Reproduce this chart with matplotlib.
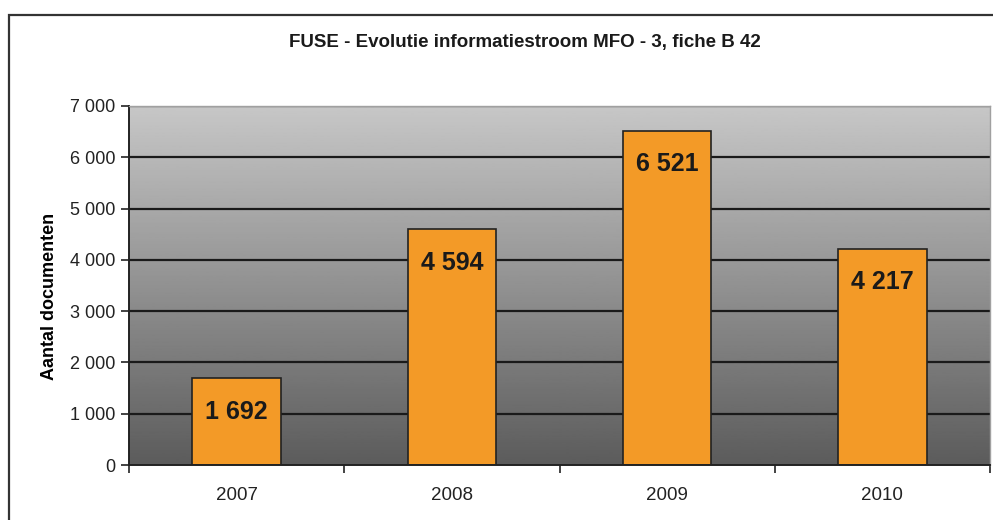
import numpy as np
import matplotlib.pyplot as plt
from matplotlib.patches import Rectangle
from matplotlib.ticker import FuncFormatter, FixedLocator

plt.rcParams['font.family'] = ['Liberation Sans', 'DejaVu Sans']

years = ["2007", "2008", "2009", "2010"]
docs = [1692, 4594, 6521, 4217]
y_ticks = [0, 1000, 2000, 3000, 4000, 5000, 6000, 7000]

fig = plt.figure(figsize=(9.93, 5.20), dpi=100)
ax = fig.add_axes([129/993, 1 - 465/520, (990-129)/993, (465-106)/520])

x = np.arange(len(years))
ax.set_xlim(-0.5, len(years) - 0.5)
ax.set_ylim(0, 7000)

# gray gradient background
grad = np.linspace(0.78, 0.36, 256).reshape(-1, 1)
ax.imshow(grad, cmap='gray', vmin=0, vmax=1, aspect='auto',
          extent=[-0.5, len(years) - 0.5, 0, 7000], origin='upper', zorder=0)

for yv in y_ticks[1:]:
    ax.axhline(yv, color='#1a1a1a', lw=1.6, zorder=1)

ax.bar(x, docs, width=0.41, color='#f39a27', edgecolor='#222222', lw=1.2, zorder=2)

for xi, v in zip(x, docs):
    ax.annotate(f"{v:,}".replace(",", " "), (xi, v), xytext=(0, -24),
                textcoords='offset points', ha='center', va='center',
                fontsize=18, fontweight='bold', color='#1a1a1a', zorder=3)

ax.set_yticks(y_ticks)
ax.yaxis.set_major_formatter(FuncFormatter(lambda v, p: f"{int(v):,}".replace(",", " ")))
ax.set_xticks(x)
ax.set_xticklabels(years)
ax.xaxis.set_minor_locator(FixedLocator([-0.5, 0.5, 1.5, 2.5, 3.5]))
ax.tick_params(axis='x', which='major', length=0, labelsize=13.5, pad=16, colors='#222222')
ax.tick_params(axis='x', which='minor', length=6, width=1.2, color='#222222')
ax.tick_params(axis='y', length=6, width=1.2, labelsize=13, colors='#222222', pad=4)

for s in ['top', 'right']:
    ax.spines[s].set_color('#a0a0a0')
    ax.spines[s].set_linewidth(1)
for s in ['left', 'bottom']:
    ax.spines[s].set_color('#222222')
    ax.spines[s].set_linewidth(1.4)

ax.set_ylabel("Aantal documenten", fontsize=13, fontweight='bold')
ax.yaxis.set_label_coords(-0.083, 0.47)

fig.text(525/993, 1 - 43/520, "FUSE - Evolutie informatiestroom MFO - 3, fiche B 42",
         ha='center', va='center', fontsize=13.5, fontweight='bold', color='#1a1a1a')

fig.patches.append(Rectangle((9/993, -0.1), 1.1, 1.1 - 15/520, transform=fig.transFigure,
                             fill=False, edgecolor='#333333', lw=1.6))

fig.savefig("out.png", dpi=100)
